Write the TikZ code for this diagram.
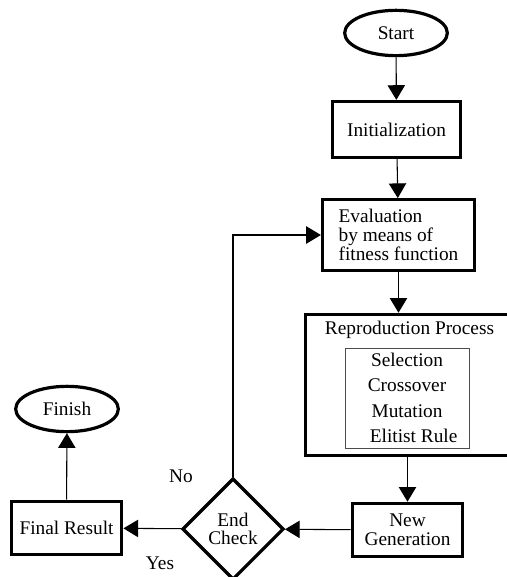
\documentclass[tikz,border=0pt]{standalone}
\usepackage{fontspec}
\setmainfont{Liberation Serif}
\usetikzlibrary{positioning, arrows.meta, shapes.geometric}

\begin{document}
\begin{tikzpicture}[
    x=0.75pt, y=-0.75pt,
    every node/.style={font=\fontsize{14.5pt}{14pt}\selectfont, inner sep=0pt},
    procbox/.style={draw=black, line width=2.4pt, fill=white, align=center},
    endpoint/.style={draw=black, line width=2.4pt, ellipse, fill=white},
    decision/.style={draw=black, line width=2.4pt, diamond, aspect=1, fill=white, align=center},
    flow/.style={draw, line width=0.8pt, -{Triangle[width=13pt, length=11pt]}}
]
\useasboundingbox (0,0) rectangle (506,577);

% Nodes
\node[endpoint, minimum width=77pt, minimum height=34pt] (start) at (396,33) {Start};
\node[procbox, minimum width=96pt, minimum height=42pt] (init) at (396.5,129.5) {Initialization};
\node[procbox, minimum width=114pt, minimum height=53pt, align=left] (eval) at (398.5,235)
    {Evaluation\\by means of\\fitness function};
\node[procbox, minimum width=156pt, minimum height=106pt] (repro) at (409.5,385) {};
\node[below=6pt of repro.north] (reprotitle) {Reproduction Process};
\node[draw=black!70, line width=0.6pt, minimum width=93pt, minimum height=75pt,
      font=\fontsize{14.5pt}{19pt}\selectfont, align=center] (ops) at (407,398)
    {Selection\\Crossover\\Mutation\\\hspace*{10pt}Elitist Rule};
\node[procbox, minimum width=83pt, minimum height=40pt] (newgen) at (407.5,530) {New\\Generation};
\node[decision, minimum size=76pt] (check) at (233,529) {End\\Check};
\node[procbox, minimum width=83pt, minimum height=40pt] (final) at (66.5,528) {Final Result};
\node[endpoint, minimum width=77pt, minimum height=34pt] (finish) at (67,409) {Finish};
\node (no) at (181,476) {No};
\node (yes) at (160,563) {Yes};

% Paths
\path[flow] (start) -- (init);
\path[flow] (init) -- (eval);
\path[flow] (eval) -- (eval |- repro.north);
\path[flow] (repro.south -| newgen) -- (newgen);
\path[flow] (newgen) -- (check);
\path[flow] (check) -- (final);
\path[flow] (final) -- (finish);
\path[flow] (check.north) |- (eval.west);

\end{tikzpicture}
\end{document}
